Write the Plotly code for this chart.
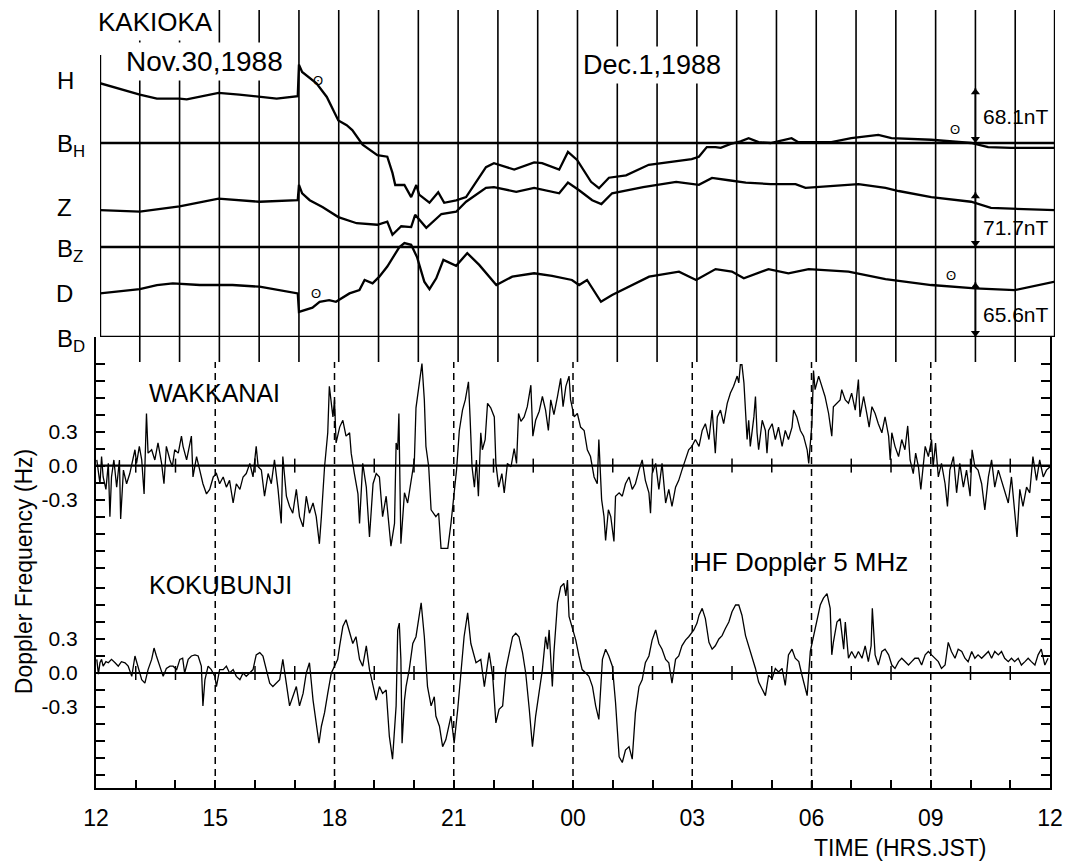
import plotly.graph_objects as go

# ---------------- data ----------------
HOURS = list(range(12, 37))                      # 12 h Nov.30 .. 12 h Dec.1
TICK_LABELS = {12: "12", 15: "15", 18: "18", 21: "21", 24: "00",
               27: "03", 30: "06", 33: "09", 36: "12"}
SCALE_NT = {"H": 68.1, "Z": 71.7, "D": 65.6}     # scale bars (nT)
SCALE_HOUR = 34                                  # scale bars drawn on the 10 h line

# KAKIOKA magnetogram, deflection from base line (nT)
H_T = [12.0, 12.5, 13.0, 13.43, 14.0, 14.18, 14.6, 14.98, 15.5, 16.01,
       16.44, 16.97, 17.0, 17.08, 17.27, 17.44, 17.7, 17.99, 18.2, 18.34,
       18.6, 18.8, 18.97, 19.22, 19.35, 19.42, 19.65, 19.82, 19.95, 20.02,
       20.28, 20.5, 20.65, 20.95, 21.2, 21.7, 21.9, 22.41, 22.91, 23.11,
       23.54, 23.76, 23.99, 24.34, 24.54, 24.79, 25.22, 25.79, 26.29, 26.87,
       27.05, 27.25, 27.47, 27.6, 27.85, 28.1, 28.3, 28.55, 28.85, 29.38,
       29.55, 30.38, 30.88, 31.56, 31.89, 32.89, 33.89, 34.32, 34.9, 36.0]
H_NT = [74, 67, 60, 55, 55, 54, 58, 62, 60, 57,
        55, 58, 97, 88, 80, 74, 57, 28, 22, 16,
        -2, -9, -15, -17, -37, -52, -52, -67, -52, -64,
        -74, -61, -74, -71, -67, -30, -25, -33, -24, -25,
        -33, -11, -21, -48, -56, -43, -40, -27, -24, -20,
        -17, -5, -5, -6, -1, 2, 6, 1, 0, 6,
        1, 1, 6, 10, 6, 4, 0, -5, -6, -6]

Z_T = [12.0, 13.0, 14.0, 14.98, 16.01, 16.97, 17.0, 17.08, 17.27, 17.59,
       17.99, 18.45, 18.97, 19.22, 19.35, 19.57, 19.82, 19.92, 20.2, 20.58,
       20.95, 21.2, 21.7, 21.9, 22.46, 22.91, 23.54, 23.76, 24.04, 24.37,
       24.6, 24.87, 25.65, 26.48, 27.05, 27.38, 27.8, 28.23, 28.85, 29.48,
       29.73, 31.06, 31.74, 32.07, 32.89, 33.89, 34.39, 36.0]
Z_NT = [48, 46, 53, 63, 59, 61, 81, 70, 61, 52,
        39, 31, 29, 33, 16, 27, 26, 42, 25, 43,
        46, 59, 77, 78, 72, 77, 70, 84, 74, 61,
        56, 70, 78, 85, 81, 90, 87, 84, 82, 82,
        77, 82, 77, 73, 65, 59, 51, 48]

D_T = [12.0, 13.0, 13.43, 13.83, 14.51, 15.33, 16.01, 16.97, 17.0, 17.34,
       17.52, 17.76, 17.93, 18.27, 18.52, 18.65, 18.85, 19.02, 19.22, 19.4,
       19.52, 19.65, 19.82, 19.97, 20.15, 20.28, 20.45, 20.63, 20.95, 21.23,
       21.53, 21.96, 22.36, 22.91, 23.36, 23.86, 24.04, 24.24, 24.59, 24.87,
       25.8, 26.55, 26.98, 27.47, 27.88, 28.18, 28.8, 29.3, 29.81, 30.81,
       31.74, 32.89, 33.99, 34.99, 36.0]
D_NT = [52, 57, 62, 64, 62, 62, 60, 52, 30, 35,
        42, 44, 42, 52, 56, 68, 64, 72, 84, 98,
        107, 112, 110, 95, 66, 57, 70, 92, 85, 100,
        86, 62, 72, 76, 73, 68, 62, 68, 42, 50,
        72, 78, 68, 81, 78, 70, 81, 76, 81, 78,
        69, 62, 58, 56, 66]

# HF Doppler 5 MHz, WAKKANAI (Hz)
WAK_T = [12.02, 12.10, 12.14, 12.18, 12.25, 12.31, 12.35, 12.39, 12.45, 12.52,
         12.59, 12.62, 12.69, 12.77, 12.85, 12.94, 12.98, 13.02, 13.09, 13.15,
         13.21, 13.27, 13.31, 13.40, 13.48, 13.56, 13.65, 13.71, 13.77, 13.86,
         13.92, 13.98, 14.07, 14.15, 14.19, 14.28, 14.40, 14.44, 14.53, 14.61,
         14.69, 14.78, 14.86, 14.95, 15.03, 15.11, 15.20, 15.28, 15.36, 15.45,
         15.53, 15.62, 15.70, 15.78, 15.87, 15.95, 16.03, 16.08, 16.16, 16.24,
         16.33, 16.41, 16.49, 16.58, 16.66, 16.70, 16.79, 16.87, 16.95, 17.04,
         17.12, 17.21, 17.29, 17.37, 17.46, 17.54, 17.62, 17.67, 17.75, 17.83,
         17.87, 17.96, 18.00, 18.04, 18.13, 18.21, 18.29, 18.38, 18.42, 18.50,
         18.59, 18.63, 18.71, 18.80, 18.88, 18.97, 19.05,
         19.13, 19.21, 19.30, 19.42, 19.51, 19.55, 19.59, 19.62, 19.67, 19.76,
         19.84, 19.92, 20.01, 20.05, 20.12, 20.20, 20.26, 20.30, 20.37, 20.43,
         20.55, 20.62, 20.68, 20.85, 20.93, 21.01, 21.07, 21.14, 21.22, 21.29,
         21.37, 21.41, 21.46, 21.52, 21.57, 21.62, 21.68, 21.72, 21.79, 21.85,
         21.93, 22.02, 22.06, 22.13, 22.21, 22.27, 22.35, 22.44, 22.52, 22.58,
         22.63, 22.69, 22.77, 22.85, 22.94, 22.99, 23.06, 23.15, 23.23, 23.31,
         23.38, 23.44, 23.52, 23.61, 23.69, 23.75, 23.82, 23.90, 23.94, 24.03,
         24.11, 24.19, 24.28, 24.36, 24.44, 24.53, 24.61, 24.65, 24.72, 24.78,
         24.82, 24.89, 24.95, 25.03, 25.07, 25.16, 25.24, 25.32, 25.41, 25.49,
         25.57, 25.66, 25.74, 25.82, 25.91, 25.95, 25.99, 26.08, 26.16, 26.24,
         26.33, 26.41, 26.49, 26.58, 26.66, 26.74, 26.83, 26.91, 26.99, 27.08,
         27.17, 27.25, 27.33, 27.42, 27.50, 27.58, 27.63, 27.71, 27.79, 27.88,
         27.96, 28.04, 28.13, 28.17, 28.21, 28.25, 28.30, 28.34, 28.38, 28.42,
         28.46, 28.55, 28.59, 28.63, 28.67, 28.76, 28.84, 28.88, 28.92, 29.01,
         29.09, 29.17, 29.26, 29.34, 29.42, 29.51, 29.55, 29.63, 29.72, 29.80,
         29.89, 29.93, 30.01, 30.05, 30.09, 30.18, 30.26, 30.34, 30.43, 30.51,
         30.55, 30.64, 30.72, 30.76, 30.85, 30.93, 31.01, 31.10, 31.18, 31.22,
         31.31, 31.39, 31.45, 31.52, 31.60, 31.68, 31.77, 31.85, 31.94, 31.98,
         32.02, 32.10, 32.19, 32.27, 32.35, 32.42, 32.48, 32.56, 32.62, 32.69,
         32.75, 32.86, 32.94, 33.02, 33.06, 33.12, 33.19, 33.27, 33.36, 33.42,
         33.48, 33.57, 33.65, 33.73, 33.82, 33.90, 33.99, 34.04, 34.11, 34.19,
         34.28, 34.36, 34.45, 34.53, 34.61, 34.70, 34.78, 34.86, 34.95, 35.03,
         35.11, 35.17, 35.24, 35.32, 35.41, 35.49, 35.57, 35.66, 35.74, 35.83,
         35.91, 36.0]
WAK_HZ = [0.05, -0.16, 0.08, -0.10, -0.21, 0.02, -0.45, -0.10, 0.05, -0.19,
          0.05, -0.47, -0.04, -0.16, -0.07, 0.08, 0.14, 0.02, 0.17, 0.05,
          -0.25, 0.46, 0.11, 0.14, 0.05, 0.20, 0.02, -0.16, 0.17, 0.05,
          -0.01, 0.14, 0.11, 0.26, 0.17, 0.05, 0.26, -0.10, 0.08, -0.04,
          -0.16, -0.25, -0.21, -0.10, -0.07, -0.16, -0.10, -0.19, -0.13, -0.33,
          -0.16, -0.21, -0.10, -0.07, 0.02, -0.10, 0.17, -0.01, -0.04, -0.27,
          -0.07, -0.16, 0.05, -0.21, -0.51, 0.08, -0.27, -0.36, -0.42, -0.21,
          -0.45, -0.54, -0.27, -0.42, -0.33, -0.45, -0.69, -0.45, -0.01, 0.29,
          0.70, 0.43, 0.58, 0.20, 0.34, 0.40, 0.26, 0.29, 0.11, -0.07,
          -0.25, -0.51, 0.02, -0.19, -0.63, -0.16, -0.07,
          -0.10, -0.45, -0.27, -0.71, -0.51, 0.20, 0.14, 0.46, -0.69, -0.24,
          -0.33, -0.16, 0.05, 0.51, 0.68, 0.90, 0.58, 0.17, -0.01, -0.39,
          -0.45, -0.42, -0.73, -0.73, -0.51, -0.27, -0.04, 0.31, 0.49, 0.58,
          0.74, 0.43, -0.01, -0.19, 0.05, -0.27, 0.29, 0.14, 0.23, 0.55,
          0.51, 0.43, 0.02, -0.19, -0.07, -0.24, 0.02, -0.01, 0.15, 0.02,
          0.46, 0.39, 0.43, 0.52, 0.71, 0.26, 0.40, 0.48, 0.61, 0.49,
          0.31, 0.58, 0.45, 0.61, 0.77, 0.52, 0.70, 0.79, 0.58, 0.43,
          0.46, 0.34, 0.31, 0.14, 0.08, -0.10, -0.16, 0.23, -0.30, -0.45,
          -0.66, -0.39, -0.45, -0.67, -0.27, -0.24, -0.27, -0.16, -0.10, -0.21,
          -0.16, -0.04, 0.05, -0.13, -0.24, -0.42, -0.07, 0.02, -0.21, 0.02,
          -0.33, -0.21, -0.36, -0.19, -0.13, -0.04, 0.05, 0.14, 0.17, 0.23,
          0.17, 0.31, 0.37, 0.23, 0.49, 0.11, 0.43, 0.49, 0.37, 0.55,
          0.64, 0.70, 0.79, 0.73, 0.89, 0.89, 0.73, 0.46, 0.23, 0.40,
          0.17, 0.43, 0.61, 0.29, 0.14, 0.40, 0.31, 0.11, 0.31, 0.37,
          0.23, 0.34, 0.17, 0.31, 0.23, 0.34, 0.49, 0.43, 0.31, 0.26,
          0.14, 0.02, 0.37, 0.84, 0.67, 0.79, 0.70, 0.61, 0.46, 0.26,
          0.52, 0.55, 0.58, 0.67, 0.58, 0.55, 0.64, 0.49, 0.76, 0.43,
          0.61, 0.46, 0.34, 0.52, 0.46, 0.37, 0.29, 0.43, 0.26, 0.05,
          0.29, 0.17, 0.08, 0.23, 0.14, 0.35, 0.05, -0.07, 0.11, -0.01,
          -0.21, 0.17, 0.08, 0.23, -0.01, 0.20, -0.10, 0.02, -0.16, -0.36,
          -0.04, 0.08, -0.24, 0.02, -0.19, -0.04, -0.27, 0.14, -0.01, -0.04,
          -0.16, -0.39, -0.10, 0.05, -0.19, -0.04, -0.13, -0.21, -0.33, -0.10,
          -0.39, -0.63, -0.21, -0.36, -0.19, -0.24, 0.08, -0.13, 0.05, -0.10,
          -0.04, -0.01]

# HF Doppler 5 MHz, KOKUBUNJI (Hz)
KOK_T = [12.02, 12.06, 12.10, 12.14, 12.18, 12.25, 12.31, 12.39, 12.48, 12.56,
         12.64, 12.73, 12.81, 12.90, 12.98, 13.06, 13.15, 13.23, 13.31, 13.40,
         13.46, 13.52, 13.61, 13.69, 13.77, 13.86, 13.94, 14.03, 14.11, 14.18,
         14.23, 14.32, 14.40, 14.49, 14.57, 14.65, 14.69, 14.74, 14.82, 14.90,
         14.99, 15.03, 15.11, 15.20, 15.28, 15.36, 15.45, 15.53, 15.62, 15.70,
         15.78, 15.87, 15.95, 16.03, 16.12, 16.20, 16.28, 16.37, 16.45, 16.54,
         16.62, 16.70, 16.79, 16.87, 16.95, 17.04, 17.12, 17.21, 17.29, 17.37,
         17.46, 17.54, 17.61, 17.67, 17.75, 17.83, 17.92, 18.00, 18.08, 18.13,
         18.21, 18.29, 18.38, 18.46, 18.54, 18.63, 18.71, 18.80, 18.88, 18.97,
         19.05,
         19.13, 19.21, 19.30, 19.38, 19.46, 19.55, 19.59, 19.63, 19.67, 19.70,
         19.76, 19.80, 19.88, 19.97, 20.05, 20.13, 20.18, 20.26, 20.34, 20.43,
         20.51, 20.55, 20.64, 20.72, 20.80, 20.93, 21.01, 21.10, 21.18, 21.26,
         21.35, 21.43, 21.56, 21.68, 21.77, 21.81, 21.89, 21.98, 22.06, 22.14,
         22.23, 22.31, 22.39, 22.48, 22.56, 22.64, 22.73, 22.81, 22.90, 22.98,
         23.06, 23.15, 23.23, 23.31, 23.36, 23.40, 23.48, 23.52, 23.61, 23.69,
         23.77, 23.82, 23.86, 23.90, 23.98, 24.07, 24.15, 24.23, 24.32, 24.40,
         24.49, 24.57, 24.65, 24.74, 24.82, 24.90, 24.99, 25.07, 25.16, 25.24,
         25.32, 25.41, 25.49, 25.57, 25.66, 25.74, 25.82, 25.91, 25.99, 26.08,
         26.16, 26.24, 26.33, 26.41, 26.49, 26.58, 26.66, 26.74, 26.83, 26.91,
         27.04, 27.12,
         27.17, 27.25, 27.33, 27.42, 27.50, 27.58, 27.67, 27.75, 27.83, 27.92,
         28.00, 28.09, 28.17, 28.25, 28.34, 28.42, 28.50, 28.59, 28.67, 28.76,
         28.84, 28.92, 29.01, 29.09, 29.17, 29.26, 29.34, 29.42, 29.51, 29.59,
         29.68, 29.76, 29.84, 29.89, 29.97, 30.05, 30.14, 30.22, 30.30, 30.39,
         30.47, 30.51, 30.55, 30.64, 30.72, 30.81, 30.85, 30.93, 31.01, 31.10,
         31.18, 31.27, 31.35, 31.43, 31.50, 31.53, 31.60, 31.68, 31.77, 31.85,
         31.94, 32.02, 32.10, 32.19, 32.27, 32.35, 32.44, 32.52, 32.60, 32.69,
         32.77, 32.86, 32.94, 33.02, 33.11, 33.19, 33.27, 33.36, 33.44, 33.52,
         33.61, 33.69, 33.78, 33.86, 33.94, 34.03, 34.11, 34.19, 34.28, 34.36,
         34.45, 34.53, 34.61, 34.70, 34.78, 34.86, 34.95, 35.03, 35.11, 35.20,
         35.28, 35.37, 35.45, 35.53, 35.62, 35.70, 35.78, 35.87, 35.95]
KOK_HZ = [0.12, -0.01, 0.09, 0.12, 0.06, 0.10, 0.09, 0.12, 0.09, 0.06,
          0.10, 0.09, 0.06, -0.03, 0.15, 0.06, -0.06, -0.09, 0.03, 0.12,
          0.22, 0.15, 0.06, -0.03, 0.04, 0.06, 0.06, 0.03, 0.12, 0.13,
          0.00, 0.12, 0.15, 0.16, 0.15, 0.06, -0.29, -0.06, 0.06, 0.03,
          -0.03, -0.12, 0.03, 0.03, 0.06, 0.00, 0.03, -0.03, -0.06, 0.00,
          -0.03, 0.00, 0.03, 0.16, 0.18, 0.15, 0.03, -0.09, -0.12, -0.09,
          -0.06, 0.12, -0.12, -0.29, -0.21, -0.12, -0.29, -0.18, 0.00, 0.09,
          -0.24, -0.44, -0.62, -0.47, -0.35, -0.18, 0.00, 0.06, 0.12, 0.24,
          0.41, 0.47, 0.35, 0.26, 0.32, 0.12, 0.06, 0.24, 0.03, -0.12,
          -0.24,
          -0.12, -0.18, -0.15, -0.56, -0.76, -0.29, 0.38, 0.44, 0.12, -0.62,
          -0.24, -0.12, 0.03, 0.26, 0.32, 0.53, 0.62, 0.32, -0.12, -0.29,
          -0.21, -0.38, -0.47, -0.65, -0.59, -0.38, -0.62, -0.32, 0.00, 0.32,
          0.53, 0.26, 0.09, 0.12, -0.12, -0.03, 0.18, -0.03, -0.44, -0.32,
          -0.29, 0.03, 0.18, 0.32, 0.35, 0.32, 0.18, 0.00, -0.32, -0.65,
          -0.38, -0.15, 0.03, 0.32, 0.21, 0.38, -0.12, 0.18, 0.62, 0.76,
          0.79, 0.68, 0.82, 0.50, 0.41, 0.29, 0.15, 0.03, 0.00, -0.03,
          -0.12, -0.29, -0.41, 0.12, 0.21, 0.15, 0.06, -0.26, -0.74, -0.79,
          -0.68, -0.65, -0.76, -0.35, -0.12, -0.06, 0.09, 0.15, 0.29, 0.38,
          0.26, 0.21, 0.12, 0.09, -0.09, 0.12, 0.15, 0.24, 0.29, 0.32,
          0.38, 0.44,
          0.51, 0.57, 0.48, 0.27, 0.21, 0.24, 0.30, 0.33, 0.39, 0.45,
          0.54, 0.60, 0.60, 0.51, 0.33, 0.24, 0.16, 0.04, -0.08, -0.14,
          -0.20, -0.02, -0.05, 0.04, 0.01, 0.04, -0.11, 0.16, 0.21, 0.13,
          0.10, -0.02, -0.14, -0.20, 0.19, 0.33, 0.48, 0.60, 0.66, 0.70,
          0.57, 0.16, 0.27, 0.45, 0.48, 0.21, 0.45, 0.13, 0.19, 0.13,
          0.19, 0.13, 0.24, 0.10, 0.24, 0.57, 0.16, 0.07, 0.19, 0.21,
          0.16, 0.07, 0.04, 0.10, 0.13, 0.10, 0.07, 0.10, 0.13, 0.13,
          0.07, 0.16, 0.19, 0.16, 0.13, 0.10, 0.04, 0.07, 0.27, 0.19,
          0.13, 0.21, 0.19, 0.13, 0.10, 0.19, 0.13, 0.16, 0.13, 0.16,
          0.19, 0.13, 0.19, 0.16, 0.19, 0.13, 0.10, 0.13, 0.10, 0.13,
          0.07, 0.10, 0.13, 0.10, 0.07, 0.16, 0.21, 0.07, 0.13]

# ---------------- layout geometry ----------------
# The page body has an 8 px margin, so the figure starts at page (8, 8).
BODY = 8
W, H = 1073 - BODY, 862 - BODY
PLOT_L, PLOT_R, PLOT_T, PLOT_B = 94, 1060, 10, 788   # page pixels
ML, MR = PLOT_L - BODY, W - (PLOT_R - BODY)
MT, MB = PLOT_T - BODY, H - (PLOT_B - BODY)
PW, PH = PLOT_R - PLOT_L, PLOT_B - PLOT_T
FONT = "Liberation Sans, Arial, sans-serif"


def px(x):
    return (x - PLOT_L) / PW


def py(y):
    return (PLOT_B - y) / PH


SPLIT = py(337)
# magnetogram axis in "scale-bar units" (one scale bar = 1)
MAG_TOP = (337 - 10) / 55.0
BASE = {"D": 0.0, "Z": (337 - 247) / 55.0, "H": (337 - 143) / 55.0}
# Doppler axis in Hz, KOKUBUNJI zero = 0, WAKKANAI zero raised
DOP_RANGE = [-1.015, 2.965]
WAK_OFF = 1.83

fig = go.Figure()

for comp, ts, vs in (("H", H_T, H_NT), ("Z", Z_T, Z_NT), ("D", D_T, D_NT)):
    fig.add_trace(go.Scatter(
        x=ts, y=[BASE[comp] + v / SCALE_NT[comp] for v in vs],
        xaxis="x2", yaxis="y2", mode="lines",
        line=dict(color="black", width=2.3), hoverinfo="skip", showlegend=False))

# scale bars: double-headed arrows one scale unit long
HEAD = 0.075
for comp in ("H", "Z", "D"):
    b = BASE[comp]
    fig.add_trace(go.Scatter(
        x=[SCALE_HOUR, SCALE_HOUR], y=[b, b + 1], xaxis="x2", yaxis="y2",
        mode="lines", line=dict(color="black", width=1.6),
        hoverinfo="skip", showlegend=False))
    fig.add_trace(go.Scatter(
        x=[SCALE_HOUR, SCALE_HOUR], y=[b + HEAD, b + 1 - HEAD], xaxis="x2", yaxis="y2",
        mode="markers", marker=dict(symbol=["triangle-down", "triangle-up"],
                                    size=8, color="black"),
        hoverinfo="skip", showlegend=False))

fig.add_trace(go.Scatter(x=WAK_T, y=[WAK_OFF + v for v in WAK_HZ], mode="lines",
                         line=dict(color="black", width=1.3), showlegend=False))
fig.add_trace(go.Scatter(x=KOK_T, y=KOK_HZ, mode="lines",
                         line=dict(color="black", width=1.3), showlegend=False))

minor_h = [h for h in HOURS[1:-1] if h % 3]
for off in (WAK_OFF, 0.0):
    fig.add_trace(go.Scatter(
        x=minor_h, y=[off] * len(minor_h), mode="markers",
        marker=dict(symbol="line-ns", size=10, line=dict(color="black", width=1.5)),
        showlegend=False, hoverinfo="skip"))

shapes = []
for h in HOURS[1:-1]:
    shapes.append(dict(type="line", xref="x2", yref="paper", x0=h, x1=h,
                       y0=py(362), y1=1.0, line=dict(color="black", width=1.6)))
shapes.append(dict(type="line", xref="x2", yref="paper", x0=12, x1=12,
                   y0=SPLIT, y1=py(55), line=dict(color="black", width=2.4)))
shapes.append(dict(type="line", xref="x2", yref="paper", x0=36, x1=36,
                   y0=SPLIT, y1=1.0, line=dict(color="black", width=2.4)))
for comp in ("H", "Z", "D"):
    shapes.append(dict(type="line", xref="x2", yref="y2", x0=12, x1=36,
                       y0=BASE[comp], y1=BASE[comp], line=dict(color="black", width=2.6)))
for h in HOURS[1:-1]:
    if h % 3 == 0:
        shapes.append(dict(type="line", xref="x", yref="paper", x0=h, x1=h,
                           y0=0, y1=py(362),
                           line=dict(color="black", width=1.5, dash="7px,5px")))
for off in (WAK_OFF, 0.0):
    shapes.append(dict(type="line", xref="x", yref="y", x0=12, x1=36, y0=off, y1=off,
                       line=dict(color="black", width=2.2)))

ann = []


def txt(t, x, y, size, xanchor="left", bg=None, angle=0):
    d = dict(text=t, x=px(x), y=py(y), xref="paper", yref="paper", showarrow=False,
             xanchor=xanchor, yanchor="middle", textangle=angle,
             font=dict(family=FONT, size=size, color="black"))
    if bg:
        d.update(bgcolor=bg, borderpad=3)
    ann.append(d)


txt("KAKIOKA", 94, 22, 26, bg="white")
txt("Nov.30,1988", 122, 62, 28, bg="white")
txt("Dec.1,1988", 580, 65, 27, bg="white")
txt("H", 65, 81, 24, "center")
txt("B<sub>H</sub>", 55, 146, 24)
txt("Z", 64, 207, 24, "center")
txt("B<sub>Z</sub>", 55, 250, 24)
txt("D", 64, 293, 24, "center")
txt("B<sub>D</sub>", 55, 340, 24)
for lbl, y in ((f"{SCALE_NT['H']}nT", 117), (f"{SCALE_NT['Z']}nT", 227),
               (f"{SCALE_NT['D']}nT", 314)):
    txt(lbl, 983, y, 21)
for (x, y) in ((318, 80), (316, 293), (957, 130), (953, 275)):
    txt("ʘ", x, y, 13, "center")
txt("WAKKANAI", 147, 393, 25)
txt("KOKUBUNJI", 147, 585, 25)
txt("HF Doppler 5 MHz", 692, 562, 26)
txt("Doppler Frequency (Hz)", 24, 572, 23, "center", angle=-90)
txt("TIME (HRS.JST)", 902, 848, 23, "center")

dop_ticks = [WAK_OFF + 0.15 * k for k in range(-6, 7)] + [0.15 * k for k in range(-6, 6)]
dop_text = []
for v in dop_ticks:
    rel = v - WAK_OFF if v > 0.95 else v
    dop_text.append({0.3: "0.3", 0.0: "0.0", -0.3: "-0.3"}.get(round(rel, 2), ""))

fig.update_layout(
    width=W, height=H, margin=dict(l=ML, r=MR, t=MT, b=MB, pad=0),
    paper_bgcolor="white", plot_bgcolor="white", showlegend=False,
    font=dict(family=FONT, color="black"),
    xaxis=dict(domain=[px(96), px(1052)], range=[12, 36], anchor="y",
               tickmode="array", tickvals=HOURS,
               ticktext=[TICK_LABELS.get(h, "") for h in HOURS],
               ticks="inside", ticklen=8, tickwidth=1.5, tickcolor="black",
               showline=True, linewidth=2.2, linecolor="black",
               showgrid=False, zeroline=False, ticklabelstandoff=8,
               tickfont=dict(family=FONT, size=23, color="black")),
    yaxis=dict(domain=[0, SPLIT], range=DOP_RANGE, anchor="x",
               tickmode="array", tickvals=dop_ticks, ticktext=dop_text,
               ticks="inside", ticklen=9, tickwidth=1.5, tickcolor="black",
               showline=True, linewidth=2.2, linecolor="black", mirror="ticks",
               showgrid=False, zeroline=False, ticklabelstandoff=12,
               tickfont=dict(family=FONT, size=21, color="black")),
    xaxis2=dict(domain=[px(100), px(1057)], range=[12, 36], anchor="y2",
                visible=False),
    yaxis2=dict(domain=[SPLIT, 1.0], range=[0, MAG_TOP], anchor="x2",
                visible=False),
    shapes=shapes, annotations=ann,
)

fig.write_html("out.html")
